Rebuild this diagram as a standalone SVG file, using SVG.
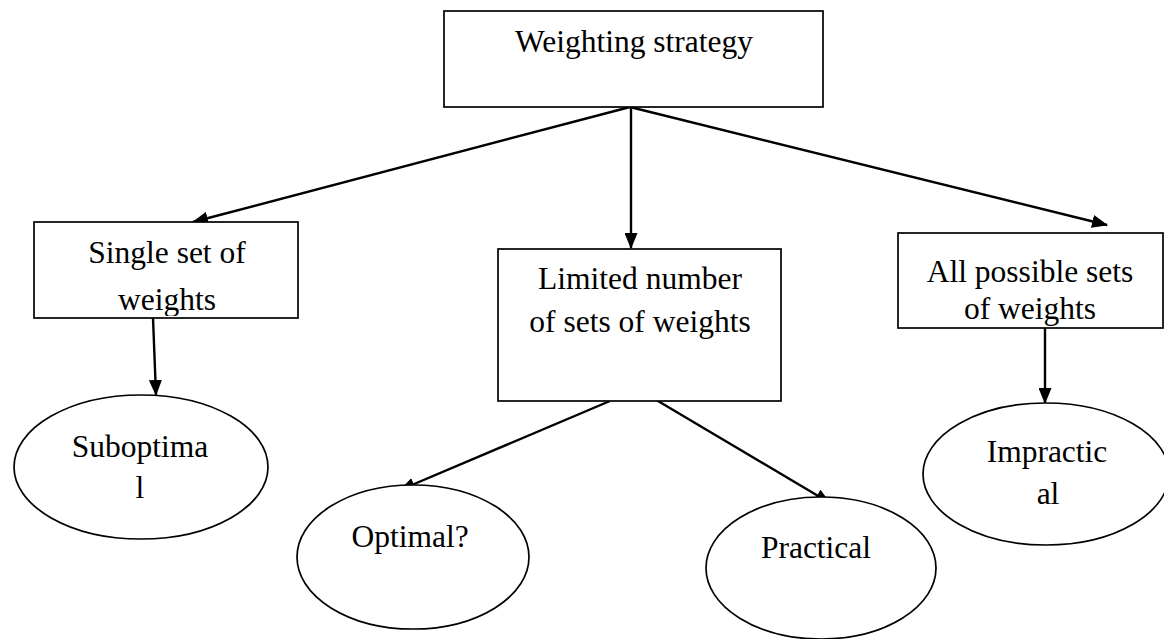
<svg xmlns="http://www.w3.org/2000/svg" width="1164" height="639" viewBox="0 0 1164 639">
<style>
.box{fill:#fff;stroke:#000;stroke-width:1.7}
.ell{fill:#fff;stroke:#000;stroke-width:1.7}
.lbl{font-family:"Liberation Serif","Times New Roman",serif;font-size:31.5px;fill:#000;text-anchor:middle}
.con{fill:none;stroke:#000;stroke-width:2.4}
</style>
<defs>
<marker id="ah" viewBox="0 0 16 13" refX="15" refY="6.5" markerWidth="16" markerHeight="13" markerUnits="userSpaceOnUse" orient="auto">
<path d="M0,0 L16,6.5 L0,13 Z" fill="#000"/>
</marker>
<clipPath id="clipSingle"><rect x="34" y="222" width="264" height="94"/></clipPath>
<clipPath id="clipAll"><rect x="898" y="233" width="265" height="93"/></clipPath>
</defs>
<rect width="1164" height="639" fill="#fff"/>
<g id="connectors">
<line class="con" x1="630" y1="107" x2="193" y2="222" marker-end="url(#ah)"/>
<line class="con" x1="631" y1="107" x2="631" y2="248" marker-end="url(#ah)"/>
<line class="con" x1="630" y1="107" x2="1107" y2="225" marker-end="url(#ah)"/>
<line class="con" x1="153" y1="318" x2="156" y2="395" marker-end="url(#ah)"/>
<line class="con" x1="610" y1="401" x2="400" y2="490" marker-end="url(#ah)"/>
<line class="con" x1="658" y1="401" x2="830" y2="503" marker-end="url(#ah)"/>
<line class="con" x1="1045" y1="328" x2="1045" y2="403" marker-end="url(#ah)"/>
</g>
<g id="n-weighting">
<rect class="box" x="444" y="11" width="379" height="96"/>
<text class="lbl" x="634" y="52">Weighting strategy</text>
</g>
<g id="n-single">
<rect class="box" x="34" y="222" width="264" height="96"/>
<g clip-path="url(#clipSingle)">
<text class="lbl" x="167" y="263">Single set of</text>
<text class="lbl" x="167" y="310">weights</text>
</g>
</g>
<g id="n-limited">
<rect class="box" x="498" y="249" width="283" height="152"/>
<text class="lbl" x="640" y="289">Limited number</text>
<text class="lbl" x="640" y="332">of sets of weights</text>
</g>
<g id="n-all">
<rect class="box" x="898" y="233" width="265" height="95"/>
<g clip-path="url(#clipAll)">
<text class="lbl" x="1030" y="282">All possible sets</text>
<text class="lbl" x="1030" y="319">of weights</text>
</g>
</g>
<g id="n-suboptimal">
<ellipse class="ell" cx="141" cy="467" rx="127" ry="72"/>
<text class="lbl" x="140" y="457">Suboptima</text>
<text class="lbl" x="140" y="498">l</text>
</g>
<g id="n-optimal">
<ellipse class="ell" cx="413" cy="557" rx="116" ry="72"/>
<text class="lbl" x="410" y="547">Optimal?</text>
</g>
<g id="n-practical">
<ellipse class="ell" cx="821" cy="568" rx="115" ry="71"/>
<text class="lbl" x="816" y="558">Practical</text>
</g>
<g id="n-impractical">
<ellipse class="ell" cx="1046" cy="474" rx="123" ry="71"/>
<text class="lbl" x="1047" y="462">Impractic</text>
<text class="lbl" x="1048" y="504">al</text>
</g>
</svg>
